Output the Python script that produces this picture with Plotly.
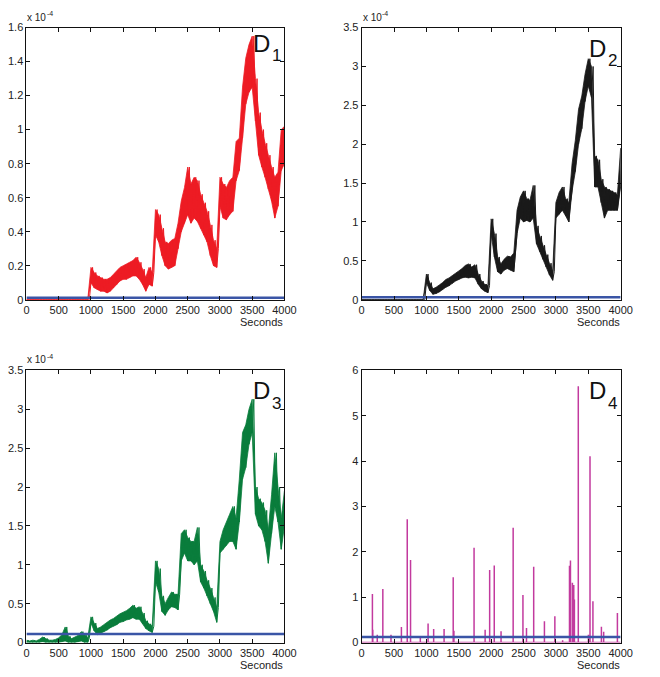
import plotly.graph_objects as go

# ---------------- data (values in units shown on the axes) ----------------
STEP = 50
t_grid = list(range(0, 4001, STEP))

# D1 (x 1e-4): lower / upper envelope of the noisy trace, every 50 s
d1_lo = [0]*20 + [0.10, 0.07, 0.06, 0.05, 0.05, 0.04, 0.05, 0.07, 0.09, 0.11,
                  0.12, 0.12, 0.13, 0.14, 0.14, 0.12, 0.09, 0.05, 0.09, 0.08,
                  0.38, 0.34, 0.26, 0.20, 0.18, 0.19, 0.20, 0.30, 0.40, 0.45,
                  0.50, 0.45, 0.48, 0.46, 0.42, 0.38, 0.34, 0.26, 0.20, 0.19,
                  0.55, 0.48, 0.47, 0.50, 0.52, 0.70, 0.76, 0.95, 1.15, 1.22,
                  1.25, 1.05, 0.85, 0.78, 0.72, 0.65, 0.58, 0.48, 0.55, 0.76,
                  0.80]
d1_hi = [0]*20 + [0.19, 0.16, 0.14, 0.13, 0.12, 0.12, 0.13, 0.15, 0.17, 0.19,
                  0.20, 0.21, 0.22, 0.23, 0.25, 0.22, 0.18, 0.13, 0.19, 0.16,
                  0.53, 0.50, 0.42, 0.34, 0.33, 0.35, 0.36, 0.45, 0.58, 0.66,
                  0.78, 0.68, 0.72, 0.70, 0.62, 0.57, 0.52, 0.44, 0.35, 0.30,
                  0.72, 0.68, 0.66, 0.70, 0.72, 0.93, 0.95, 1.25, 1.42, 1.50,
                  1.55, 1.30, 1.10, 1.00, 0.92, 0.85, 0.78, 0.72, 0.75, 1.00,
                  1.02]

# D2 (x 1e-4)
d2_lo = [0]*20 + [0.22, 0.12, 0.07, 0.08, 0.10, 0.13, 0.16, 0.18, 0.21, 0.24,
                  0.26, 0.28, 0.29, 0.28, 0.29, 0.28, 0.20, 0.14, 0.11, 0.09,
                  0.85, 0.55, 0.36, 0.33, 0.38, 0.40, 0.38, 0.36, 0.85, 1.05,
                  1.00, 1.02, 1.00, 1.05, 0.72, 0.62, 0.52, 0.42, 0.32, 0.25,
                  1.05, 1.10, 1.15, 1.08, 1.00, 1.40, 1.65, 2.00, 2.20, 2.55,
                  2.75, 2.60, 1.45, 1.45, 1.25, 1.05, 1.15, 1.15, 1.15, 1.15,
                  1.45]
d2_hi = [0]*20 + [0.33, 0.22, 0.14, 0.16, 0.19, 0.22, 0.26, 0.28, 0.31, 0.34,
                  0.37, 0.40, 0.44, 0.46, 0.42, 0.45, 0.33, 0.24, 0.20, 0.18,
                  1.04, 0.85, 0.55, 0.46, 0.52, 0.56, 0.55, 0.60, 1.15, 1.32,
                  1.40, 1.30, 1.28, 1.47, 0.95, 0.82, 0.70, 0.58, 0.47, 0.36,
                  1.25, 1.38, 1.45, 1.30, 1.25, 1.75, 2.05, 2.45, 2.62, 2.90,
                  3.10, 3.00, 1.85, 1.80, 1.55, 1.45, 1.42, 1.40, 1.38, 1.35,
                  1.95]

# D3 (x 1e-4)
d3_lo = [0.00, 0.00, 0.00, 0.00, 0.00, 0.01, 0.00, 0.00, 0.00, 0.00,
         0.00, 0.01, 0.02, 0.00, 0.00, 0.00, 0.01, 0.02, 0.00, 0.00,
         0.25, 0.15, 0.10, 0.12, 0.14, 0.16, 0.19, 0.21, 0.23, 0.26,
         0.27, 0.29, 0.30, 0.32, 0.30, 0.30, 0.24, 0.18, 0.15, 0.13,
         0.78, 0.65, 0.40, 0.35, 0.42, 0.46, 0.45, 0.42, 1.05, 1.15,
         1.05, 1.05, 1.00, 1.05, 0.78, 0.70, 0.60, 0.50, 0.40, 0.26,
         1.15, 1.20, 1.25, 1.30, 1.30, 1.20, 1.55, 2.10, 2.25, 2.55,
         2.70, 1.65, 1.50, 1.45, 1.30, 1.02, 1.40, 1.75, 1.55, 1.20,
         1.50]
d3_hi = [0.03, 0.02, 0.03, 0.02, 0.04, 0.07, 0.05, 0.03, 0.03, 0.04,
         0.06, 0.10, 0.20, 0.08, 0.05, 0.07, 0.09, 0.14, 0.10, 0.06,
         0.33, 0.25, 0.18, 0.20, 0.23, 0.26, 0.29, 0.31, 0.34, 0.37,
         0.39, 0.41, 0.44, 0.48, 0.44, 0.46, 0.38, 0.28, 0.24, 0.21,
         1.05, 0.95, 0.60, 0.50, 0.58, 0.65, 0.62, 0.62, 1.40, 1.45,
         1.35, 1.30, 1.30, 1.48, 1.00, 0.92, 0.80, 0.70, 0.58, 0.45,
         1.30, 1.45, 1.55, 1.65, 1.75, 1.60, 2.10, 2.70, 2.80, 3.00,
         3.13, 2.00, 1.85, 1.80, 1.70, 1.45, 1.90, 2.44, 2.00, 1.60,
         1.95]

# D4: spikes (time, height)
d4_t = [166, 172, 241, 327, 453, 614, 704, 755, 906, 1026, 1112, 1273, 1414, 1425,
        1736, 1907, 1977, 2048, 2153, 2340, 2491, 2546, 2657, 2823, 2984, 3104,
        3210, 3225, 3255, 3276, 3286, 3346, 3502, 3527, 3572, 3703, 3738, 3950]
d4_h = [1.07, 0.28, 0.17, 1.18, 0.17, 0.34, 2.72, 1.82, 0.10, 0.42, 0.30, 0.30, 1.44, 0.26,
        2.09, 0.28, 1.60, 1.70, 0.25, 2.53, 1.05, 0.32, 1.67, 0.47, 0.58, 0.05,
        1.69, 1.81, 1.32, 1.27, 0.95, 5.65, 0.17, 4.11, 0.91, 0.35, 0.24, 0.65]

thresholds = [0.012, 0.03, 0.11, 0.12]

x_ticks = [0, 500, 1000, 1500, 2000, 2500, 3000, 3500, 4000]
y_ticks = [
    [0, 0.2, 0.4, 0.6, 0.8, 1, 1.2, 1.4, 1.6],
    [0, 0.5, 1, 1.5, 2, 2.5, 3, 3.5],
    [0, 0.5, 1, 1.5, 2, 2.5, 3, 3.5],
    [0, 1, 2, 3, 4, 5, 6],
]
y_ranges = [[0, 1.6], [0, 3.5], [0, 3.5], [0, 6]]
panel_names = ["1", "2", "3", "4"]
has_exponent = [True, True, True, False]

# ---------------- styling ----------------
W, H = 660, 677
FONT = "Liberation Sans, Arial, sans-serif"
colors = ["#ED1C24", "#1A1A1A", "#0A7D3C", "#C23A9E"]
BLUE = "#3A55A6"
# panel boxes in pixels: left, right, top, bottom
boxes = [(24, 288, 22, 299), (367, 632, 22, 299), (24, 288, 371, 648), (367, 632, 371, 648)]
label_drop = [1, 6, 6, 6]


def zigzag(t, lo, hi):
    xs, ys = [], []
    for ti, l, h in zip(t, lo, hi):
        xs += [ti, ti + STEP / 2]
        ys += [l, h]
    return xs, ys


def band(t, lo, hi):
    return list(t) + list(t)[::-1], list(lo) + list(hi)[::-1]


def spikes(ts, hs):
    xs, ys = [0], [0]
    for ti, h in zip(ts, hs):
        xs += [ti, ti, ti]
        ys += [0, h, 0]
    xs.append(4000)
    ys.append(0)
    return xs, ys


fig = go.Figure()
envelopes = [(d1_lo, d1_hi), (d2_lo, d2_hi), (d3_lo, d3_hi)]

for i in range(4):
    xa = "x" if i == 0 else f"x{i+1}"
    ya = "y" if i == 0 else f"y{i+1}"
    if i < 3:
        lo, hi = envelopes[i]
        bx, by = band(t_grid, lo, hi)
        fig.add_trace(go.Scatter(x=bx, y=by, mode="lines", fill="toself", fillcolor=colors[i],
                                 xaxis=xa, yaxis=ya,
                                 line=dict(color=colors[i], width=0.8, simplify=False),
                                 showlegend=False, hoverinfo="skip"))
        zx, zy = zigzag(t_grid, lo, hi)
        fig.add_trace(go.Scatter(x=zx, y=zy, mode="lines", xaxis=xa, yaxis=ya,
                                 line=dict(color=colors[i], width=1.0, simplify=False),
                                 showlegend=False, hoverinfo="skip"))
    else:
        sx, sy = spikes(d4_t, d4_h)
        fig.add_trace(go.Scatter(x=sx, y=sy, mode="lines", xaxis=xa, yaxis=ya,
                                 line=dict(color=colors[i], width=1.5, simplify=False),
                                 showlegend=False, hoverinfo="skip"))
    fig.add_trace(go.Scatter(x=[0, 4000], y=[thresholds[i]] * 2, mode="lines",
                             xaxis=xa, yaxis=ya, line=dict(color=BLUE, width=2.5),
                             showlegend=False, hoverinfo="skip"))

layout = dict(width=W, height=H, margin=dict(l=0, r=0, t=0, b=0),
              paper_bgcolor="white", plot_bgcolor="white",
              font=dict(family=FONT, size=11, color="#222"))
annotations = []


def note(x, y, text, size, xanchor, yanchor, color="#222"):
    annotations.append(dict(x=x / W, y=1 - y / H, xref="paper", yref="paper",
                            xanchor=xanchor, yanchor=yanchor, showarrow=False,
                            text=text, borderpad=0,
                            font=dict(family=FONT, size=size, color=color)))


for i, (l, r, t, b) in enumerate(boxes):
    xk = "xaxis" if i == 0 else f"xaxis{i+1}"
    yk = "yaxis" if i == 0 else f"yaxis{i+1}"
    ya = "y" if i == 0 else f"y{i+1}"
    xa = "x" if i == 0 else f"x{i+1}"
    common = dict(showline=True, linecolor="#111", linewidth=1, mirror="ticks",
                  ticks="inside", ticklen=4, tickcolor="#111", showgrid=False,
                  zeroline=False, tickfont=dict(family=FONT, size=11, color="#222"))
    layout[xk] = dict(domain=[l / W, r / W], range=[0, 4000], anchor=ya,
                      tickvals=x_ticks, ticktext=[str(v) for v in x_ticks], **common)
    layout[yk] = dict(domain=[1 - b / H, 1 - t / H], range=y_ranges[i], anchor=xa,
                      tickvals=y_ticks[i], ticktext=[f"{v:g}" for v in y_ticks[i]], **common)
    # panel label D with subscript number
    note(r - 14, t + label_drop[i], "D", 24, "right", "top", "#111")
    note(r - 14, t + label_drop[i] + 17, panel_names[i], 17, "left", "top", "#111")
    # seconds label
    note(r, b + 16, "Seconds", 11, "right", "top")
    if has_exponent[i]:
        note(l, t - 4, "x 10", 10, "left", "bottom")
        note(l + 20, t - 10, "-4", 7, "left", "bottom")
layout["annotations"] = annotations
fig.update_layout(**layout)
fig.write_html("out.html")
